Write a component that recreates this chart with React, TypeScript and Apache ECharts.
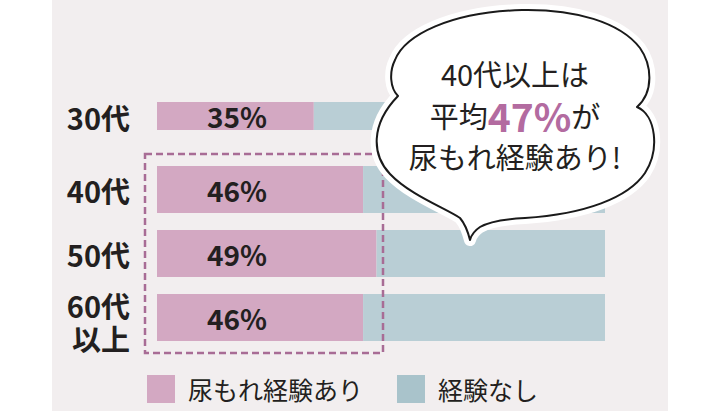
import { useEffect, useRef } from 'react';
import * as echarts from 'echarts';

const ageGroups = ['30代', '40代', '50代', '60代\n以上'];
const leakYes = [35, 46, 49, 46];
const leakNo = [65, 54, 51, 54];
const seriesNames = ['尿もれ経験あり', '経験なし'];
const calloutLines = ['40代以上は', '平均{p|47%}が', '尿もれ経験あり!'];

const FONT = '"Noto Sans CJK JP", "Noto Sans", sans-serif';
const PINK = '#d3a8c2';
const BLUE = '#b9ced5';
const INK = '#231f20';

// speech bubble outline
const bubblePath =
  'M395 60 C405 35 450 12 522 10 C575 9 620 22 640 48 C652 65 654 92 637 107 ' +
  'C656 115 660 150 645 173 C628 198 585 214 525 218 C505 219 490 221 480 227 ' +
  'C474 231 471 236 470 240 C468 232 466 225 460 218 C445 208 410 195 390 174 ' +
  'C372 155 370 125 398 96 C390 88 389 72 395 60 Z';
echarts.graphic.registerShape('bubble', echarts.graphic.extendPath(bubblePath, {}));

export default function App() {
  const chartRef = useRef(null);

  useEffect(() => {
    const chart = echarts.init(chartRef.current, null, { renderer: 'svg' });
    // first row is a thinner bar drawn in its own stack
    const firstOnly = (arr: number[]) => arr.map((v, i) => (i === 0 ? v : '-'));
    const restOnly = (arr: number[]) => arr.map((v, i) => (i === 0 ? '-' : v));
    const barLabel = {
      show: true,
      position: [50, '50%'],
      align: 'left',
      verticalAlign: 'middle',
      formatter: '{c}%',
      fontFamily: FONT,
      fontSize: 28,
      fontWeight: 'bold',
      color: INK,
    };
    const calloutY = [73, 115, 156];
    const option = {
      animation: false,
      textStyle: { fontFamily: FONT },
      grid: { left: 157, right: 115, top: 93.5, bottom: 61.5 },
      xAxis: { type: 'value', min: 0, max: 100, show: false },
      yAxis: {
        type: 'category',
        data: ageGroups,
        inverse: true,
        axisLine: { show: false },
        axisTick: { show: false },
        splitLine: { show: false },
        axisLabel: {
          margin: 27,
          fontFamily: FONT,
          fontSize: 29,
          fontWeight: 'bold',
          color: INK,
          lineHeight: 33,
          formatter: (v: string, i: number) => (i === 0 ? `{up|${v}}` : v.includes('\n') ? `{two|${v}}` : v),
          rich: {
            up: { fontFamily: FONT, fontSize: 29, fontWeight: 'bold', color: INK, padding: [0, 0, 18, 0] },
            two: { fontFamily: FONT, fontSize: 29, fontWeight: 'bold', color: INK, lineHeight: 33, padding: [8, 0, 0, 0] },
          },
        },
      },
      legend: {
        data: [
          { name: seriesNames[0], itemStyle: { color: PINK } },
          { name: seriesNames[1], itemStyle: { color: '#a9c3cb' } },
        ],
        left: 147,
        top: 375,
        padding: 0,
        icon: 'rect',
        itemWidth: 28,
        itemHeight: 28,
        itemGap: 34,
        selectedMode: false,
        textStyle: { fontFamily: FONT, fontSize: 25, color: INK, padding: [0, 0, 0, 8] },
      },
      series: [
        {
          name: seriesNames[0], type: 'bar', stack: 'young', barWidth: 28, barGap: '-100%',
          data: firstOnly(leakYes), itemStyle: { color: PINK }, label: barLabel,
        },
        {
          name: seriesNames[1], type: 'bar', stack: 'young', barWidth: 28, barGap: '-100%',
          data: firstOnly(leakNo), itemStyle: { color: BLUE },
        },
        {
          name: seriesNames[0], type: 'bar', stack: 'main', barWidth: 47, barGap: '-100%',
          data: restOnly(leakYes), itemStyle: { color: PINK }, label: barLabel,
        },
        {
          name: seriesNames[1], type: 'bar', stack: 'main', barWidth: 47, barGap: '-100%',
          data: restOnly(leakNo), itemStyle: { color: BLUE },
        },
      ],
      graphic: [
        {
          type: 'rect', z: -10, silent: true,
          shape: { x: 52, y: 0, width: 616, height: 411 },
          style: { fill: '#f2eeef' },
        },
        {
          type: 'rect', z: 50, silent: true,
          shape: { x: 145, y: 154, width: 238, height: 199 },
          style: { fill: 'none', stroke: '#a86c95', lineWidth: 2.5, lineDash: [7, 4] },
        },
        {
          type: 'bubble', x: 0, y: 0, z: 100, silent: true,
          style: { fill: '#ffffff', stroke: '#ffffff', lineWidth: 12, lineJoin: 'round' },
        },
        {
          type: 'bubble', x: 0, y: 0, z: 101, silent: true,
          style: { fill: '#ffffff', stroke: '#1a1a1a', lineWidth: 2, lineJoin: 'round' },
        },
        ...calloutLines.map((line, i) => ({
          type: 'text', x: 515, y: calloutY[i], z: 102, silent: true,
          style: {
            text: line,
            fontFamily: FONT,
            fontSize: 29,
            fill: INK,
            align: 'center',
            verticalAlign: 'middle',
            rich: {
              p: { fontFamily: FONT, fontSize: 39, fontWeight: 'bold', fill: '#b36ba0' },
            },
          },
        })),
      ],
    };
    chart.setOption(option as any);
    return () => {
      chart.dispose();
    };
  }, []);

  return (
    <div
      ref={chartRef}
      style={{ position: 'fixed', left: 0, top: 0, width: 720, height: 411, background: '#ffffff' }}
    ></div>
  );
}
